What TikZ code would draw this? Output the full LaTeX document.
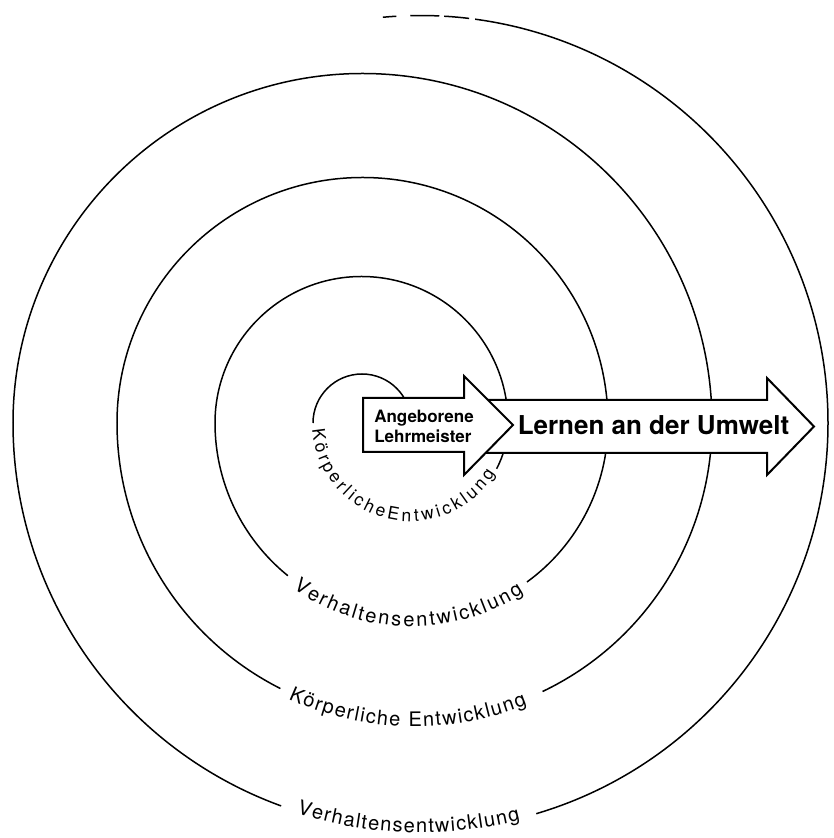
\documentclass[tikz,border=0pt]{standalone}
\usepackage{fontspec}
\setmainfont{TeX Gyre Heros}
\usetikzlibrary{decorations.text}
\begin{document}
\begin{tikzpicture}[x=1pt,y=1pt,
    bogen/.style={line width=1.5pt},
    pfeil/.style={line width=2pt,fill=white},
    schrift/.style={decorate,decoration={text along path,text align={fit to path},text={#1}}}]
            \def\mitte{415}
            \useasboundingbox (0,0) rectangle (834,838);
            \fill[white] (0,0) rectangle (834,838);
            %\draw[gray!50,step=100] (0,0) grid (834,838);
            % obere Halbkreise
            \foreach \x/\r in {362/49,361.5/146.5,362.5/245.5,362.5/349.5}
            \draw[bogen] (\x+\r,\mitte) arc[start angle=0,end angle=180,radius=\r];
            % untere Halbkreise mit Schrift
            \draw[bogen] (410.5,\mitte) ++(332:97.5) arc[start angle=332,end angle=360,radius=97.5];
            {\fontsize{17.5}{17.5}\selectfont
            \path[schrift=KörperlicheEntwicklung,decoration={raise=-1pt}]
            (410.5,\mitte) ++(184:97.5) arc[start angle=184,end angle=329,radius=97.5];}
            \foreach \x/\r/\a/\b/\c/\d/\h/\wort in {
                411.5/196.5/231/234.3/303.5/306/-7/Verhaltensentwicklung,
                414.5/297.5/243.2/245.4/291.8/295.5/-6/Körperliche Entwicklung,
                420.5/407.5/250/252.4/284.1/286.5/-2/Verhaltensentwicklung}
            {
                \draw[bogen] (\x-\r,\mitte) arc[start angle=180,end angle=\a,radius=\r];
                \draw[bogen] (\x,\mitte) ++(\d:\r) arc[start angle=\d,end angle=360,radius=\r];
                \fontsize{20}{20}\selectfont
                \path[schrift/.expanded=\wort,decoration={raise=\h pt}]
                (\x,\mitte) ++(\b:\r) arc[start angle=\b,end angle=\c,radius=\r];
            }
            % aeusserer Bogen, oben gestrichelt
            \draw[bogen] (828,\mitte) arc[start angle=0,end angle=82.3,radius=407.5];
            \draw[bogen,dash pattern=on 0pt off 6pt on 25pt off 5pt on 29pt off 14pt on 15pt]
            (420.5,\mitte) ++(82.3:407.5) arc[start angle=82.3,end angle=95.3,radius=407.5];
            % Pfeile
            \draw[pfeil] (480,438) -- (767,438) -- (767,460) -- (814,411.5) -- (767,363)
            -- (767,385) -- (480,385) -- cycle;
            \draw[pfeil] (363,440) -- (464,440) -- (464,462) -- (513,413) -- (464,363)
            -- (464,386) -- (363,386) -- cycle;
            \node[font=\fontsize{17}{20}\selectfont\bfseries,align=left] (lehrmeister)
            at (424,412) {Angeborene\\Lehrmeister};
            \node[font=\fontsize{26}{26}\selectfont\bfseries,anchor=base] (umwelt)
            at (653.5,403) {Lernen an der Umwelt};
        \end{tikzpicture}
\end{document}
